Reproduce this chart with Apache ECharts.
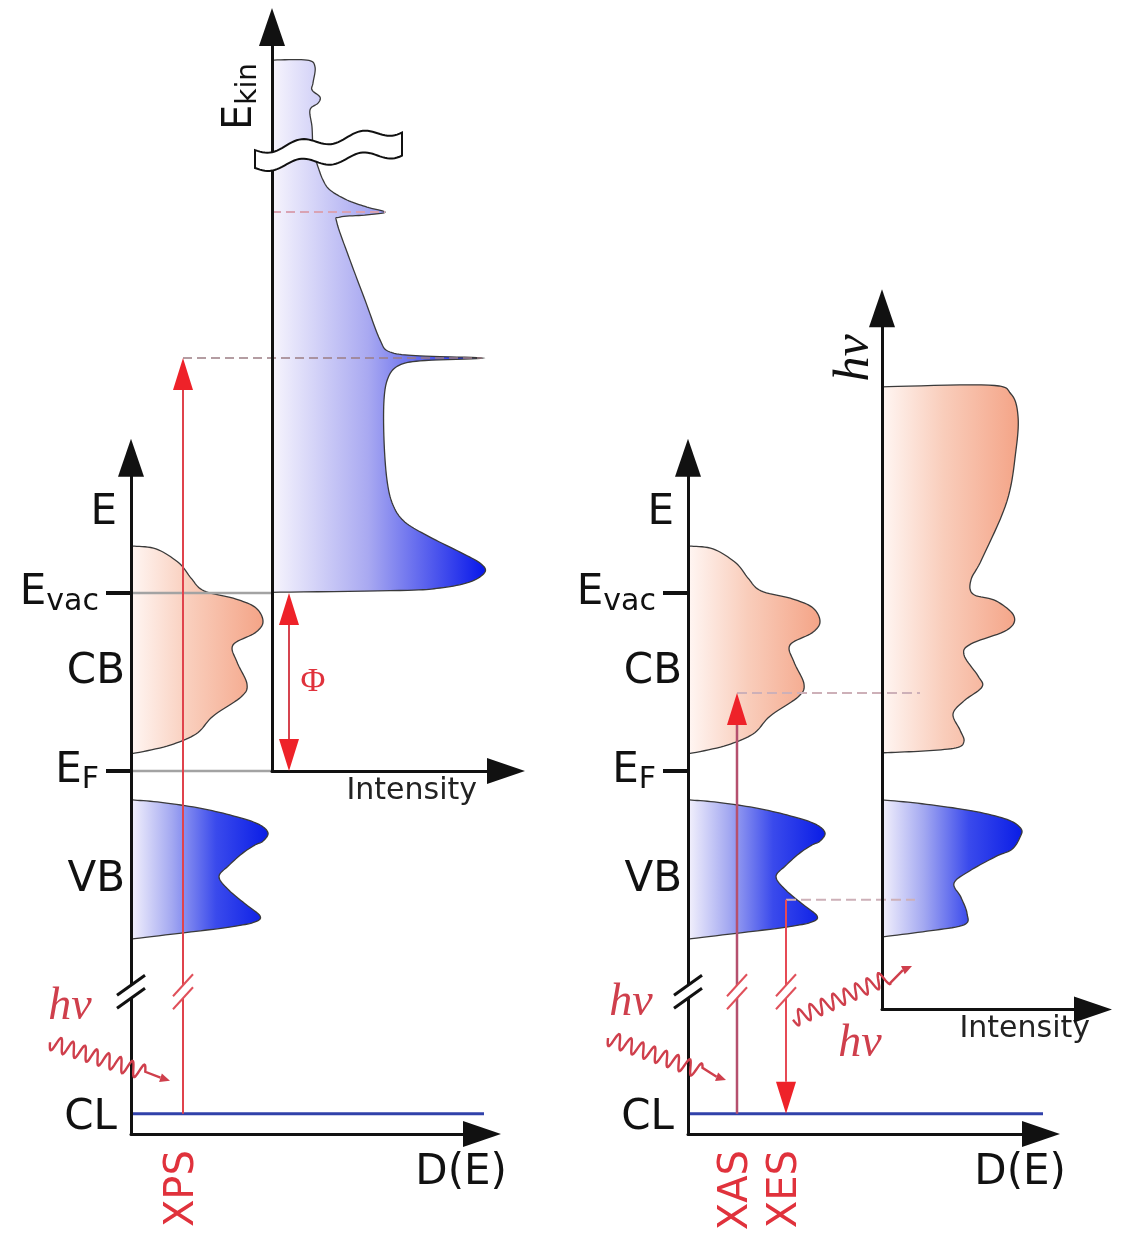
<!DOCTYPE html>
<html>
<head>
<meta charset="utf-8">
<title>XPS, XAS and XES energy scheme</title>
<script src="https://cdn.jsdelivr.net/npm/echarts@6/dist/echarts.min.js"></script>
<style>
  html, body { margin: 0; padding: 0; background: #ffffff; }
  #chart { width: 1133px; height: 1238px; }
</style>
</head>
<body>
<div id="chart"></div>
<script>
// ---- energy levels (eV, relative to the Fermi level) ----
const E_F = 0;
const E_VAC = 5.0;        // vacuum level = work function Φ
const E_CL = -9.63;       // core level
const E_BREAK = -6.2;     // energy axis is broken between VB and CL

// ---- densities of states, [D(E), E] ----
const cbDos = [[0, 6.32], [2.5, 6.24], [4.8, 5.84], [6.0, 5.42], [7.3, 5.06], [10.5, 4.83], [12.5, 4.58],
  [13.2, 4.19], [12.4, 3.88], [10.2, 3.54], [10.6, 3.06], [11.6, 2.44], [11.0, 2.08], [8.2, 1.54],
  [6.5, 1.04], [3.6, 0.70], [0, 0.48]];
const vbDos = [[0, -0.81], [3, -0.88], [7, -1.05], [10.5, -1.28], [12.8, -1.5], [13.7, -1.74], [13.2, -1.97],
  [12.4, -2.08], [11.2, -2.3], [9.8, -2.65], [8.8, -2.97], [9.8, -3.35], [11.5, -3.75], [12.9, -4.07],
  [12.4, -4.24], [10, -4.38], [6, -4.52], [0, -4.72]];

// ---- XPS spectrum, [intensity, E_kin] ----
const xpsSpectrum = [[0, 14.97], [3.5, 14.97], [4.3, 14.78], [4.1, 14.33], [4.0, 14.13], [4.8, 13.93],
  [4.6, 13.76], [3.8, 13.57], [4.0, 13.09], [4.1, 12.53], [4.4, 12.16], [4.6, 11.97], [5.1, 11.60],
  [5.8, 11.32], [7.5, 11.04], [9.5, 10.84], [11.3, 10.70], [9.5, 10.62], [6.8, 10.56], [6.5, 10.39],
  [7.8, 9.35], [9.3, 8.23], [10.8, 7.11], [11.8, 6.77], [14.8, 6.66], [21.0, 6.60], [14.8, 6.52],
  [12.6, 6.38], [11.6, 6.04], [11.2, 5.42], [11.2, 4.30], [11.5, 3.17], [12.1, 2.47], [13.3, 1.99],
  [15.8, 1.57], [18.8, 1.15], [20.8, 0.84], [21.3, 0.59], [19.8, 0.31], [16.8, 0.14], [12.8, 0.07], [0, 0.02]];
const XPS_PEAK_EKIN = 6.60;   // core-level photoemission line
const XPS_SAT_EKIN = 10.70;   // valence-band feature

// ---- X-ray absorption / emission spectra, [intensity, E] ----
const xasSpectrum = [[0, 10.79], [10.7, 10.84], [12.9, 10.59], [13.6, 9.97], [13.4, 9.02], [12.5, 7.58],
  [10.0, 5.96], [8.9, 5.37], [9.1, 4.97], [11.4, 4.78], [13.2, 4.35], [12.5, 3.96], [8.9, 3.57], [8.2, 3.26],
  [9.6, 2.67], [10.0, 2.36], [8.2, 1.97], [7.1, 1.60], [7.8, 1.15], [8.2, 0.84], [7.4, 0.65], [4.0, 0.56], [0, 0.51]];
const xesSpectrum = [[0, -0.81], [4, -0.92], [9, -1.12], [12.5, -1.36], [13.9, -1.62], [13.8, -1.86],
  [13.0, -2.2], [11.4, -2.4], [8.8, -2.8], [7.2, -3.15], [7.9, -3.55], [8.5, -4.0], [8.2, -4.32], [4.5, -4.5], [0, -4.66]];

// ---- transitions: position on the D(E) axis and end energies ----
const XPS_X = 5.2;
const XAS_X = 4.9, XAS_TOP = 2.19;
const XES_X = 9.8, XES_TOP = -3.62;
const PHI_X = 1.7;

// ---- photons, [x0, E0, x1, E1] ----
const photonInXps = [[-8.1, -7.62, 3.9, -8.70]];
const photonInXas = [[-8.0, -7.50, 3.8, -8.68]];
const photonOutXes = [[10.5, -6.99, 22.4, -5.48]];

// ---- broken E_kin axis, [xLeft, EkinLow, EkinHigh, xRight, EkinLow, EkinHigh] ----
const ekinBreak = [[-1.7, 11.94, 12.44, 13.0, 12.36, 13.01]];

// ---- labels on the energy axes ----
const levelLabelE = [7.25, E_VAC, 2.78, E_F, -3.06, -9.75];
const levelLabelText = ['{mp|E}', '{m|E}{s|vac}', '{m|CB}', '{m|E}{s|F}', '{m|VB}', '{mp|CL}'];

// ---- layout ----
const Y_EF = 771, PX_PER_EV = 35.6, PX_PER_UNIT = 10;
const LEFT_DOS_L = 131, LEFT_XPS = 272, LEFT_DOS_R = 688, LEFT_XRAY = 882;
const DOS_RANGE = [-10.2, 8.8];
const XPS_RANGE = [-E_VAC, 15.9];
const XRAY_RANGE = [-6.7, 13.0];
const X_MAX = [35.1, 23.4, 35.3, 21.1];
const OFF_XPS = (LEFT_XPS - LEFT_DOS_L) / PX_PER_UNIT;
const OFF_XRAY = (LEFT_XRAY - LEFT_DOS_R) / PX_PER_UNIT;

const FONT = 'DejaVu Sans';
const SERIF = 'Liberation Serif';
const INK = '#111111';
const RED = '#e0323c';
const PHOTON = '#cf3f4c';

const CB_FILL = [{ offset: 0, color: '#fff6f3' }, { offset: 0.45, color: '#f9cdbb' }, { offset: 1, color: '#f4a487' }];
const VB_FILL = [{ offset: 0, color: '#f3f1fc' }, { offset: 0.3, color: '#a3a8f1' }, { offset: 0.62, color: '#3a4aec' }, { offset: 1, color: '#0a1de6' }];
const XPS_FILL = [{ offset: 0, color: '#f7f5fd' }, { offset: 0.45, color: '#a9a9f1' }, { offset: 1, color: '#0717ea' }];

function gridBox(left, xMax, range, shift) {
  return {
    left: left,
    top: Y_EF - PX_PER_EV * (range[1] + shift),
    width: PX_PER_UNIT * xMax,
    height: PX_PER_EV * (range[1] - range[0]),
    containLabel: false,
    outerBoundsMode: 'none'
  };
}

function arrowLine() {
  return { show: true, onZero: false, symbol: ['none', 'triangle'], symbolSize: [26, 38],
    lineStyle: { color: INK, width: 3 } };
}

function baseAxis(extra) {
  return Object.assign({
    type: 'value', z: 5, silent: true,
    splitLine: { show: false }, axisTick: { show: false }, axisLabel: { show: false },
    axisLine: arrowLine()
  }, extra);
}

function nearestLabel(v) {
  let best = 0;
  levelLabelE.forEach(function (e, i) { if (Math.abs(e - v) < Math.abs(levelLabelE[best] - v)) best = i; });
  return levelLabelText[best];
}

function energyAxis(grid) {
  return baseAxis({
    gridIndex: grid, min: DOS_RANGE[0], max: DOS_RANGE[1],
    axisTick: { show: true, customValues: [E_VAC, E_F], length: 25, inside: false,
      lineStyle: { color: INK, width: 4 } },
    axisLabel: {
      show: true, customValues: levelLabelE, margin: 6, formatter: nearestLabel,
      rich: {
        m: { fontFamily: FONT, fontSize: 42, color: INK },
        mp: { fontFamily: FONT, fontSize: 42, color: INK, padding: [0, 8, 0, 0] },
        s: { fontFamily: FONT, fontSize: 30, color: INK, padding: [18, 26, 0, 0] }
      }
    }
  });
}

// Catmull-Rom smoothing of a pixel polyline
function smoothPath(pts, steps) {
  const out = [];
  const n = pts.length;
  for (let i = 0; i < n - 1; i++) {
    const p0 = pts[Math.max(i - 1, 0)], p1 = pts[i], p2 = pts[i + 1], p3 = pts[Math.min(i + 2, n - 1)];
    const c1 = [p1[0] + (p2[0] - p0[0]) / 6, p1[1] + (p2[1] - p0[1]) / 6];
    const c2 = [p2[0] - (p3[0] - p1[0]) / 6, p2[1] - (p3[1] - p1[1]) / 6];
    for (let s = 0; s < steps; s++) {
      const t = s / steps, u = 1 - t;
      const a = u * u * u, b = 3 * u * u * t, c = 3 * u * t * t, d = t * t * t;
      out.push([a * p1[0] + b * c1[0] + c * c2[0] + d * p2[0], a * p1[1] + b * c1[1] + c * c2[1] + d * p2[1]]);
    }
  }
  out.push(pts[n - 1]);
  return out;
}

// filled density / spectrum, closed along its vertical axis
function shapeSeries(grid, data, stops) {
  return {
    type: 'custom', xAxisIndex: grid, yAxisIndex: grid, z: 1, silent: true, data: data,
    renderItem: function (params, api) {
      if (params.dataIndexInside !== 0) return null;
      const pts = [];
      for (let i = 0; i < params.dataInsideLength; i++) pts.push(api.coord([api.value(0, i), api.value(1, i)]));
      const curve = smoothPath(pts, 10);
      return {
        type: 'group', children: [
          { type: 'polygon', shape: { points: curve },
            style: { fill: new echarts.graphic.LinearGradient(0, 0, 1, 0, stops), stroke: null } },
          { type: 'polyline', shape: { points: curve }, style: { stroke: '#3a3a3a', lineWidth: 1.3, fill: null } }
        ]
      };
    }
  };
}

function segSeries(grid, data, color, width, dash, z) {
  return { type: 'line', xAxisIndex: grid, yAxisIndex: grid, data: data, symbol: 'none', silent: true,
    clip: false, z: z, lineStyle: { color: color, width: width, type: dash } };
}

// vertical transition arrows, data [x, Efrom, Eto]
function arrowSeries(grid, data, lineColor, lineWidth, both, label) {
  return {
    type: 'custom', xAxisIndex: grid, yAxisIndex: grid, z: 6, silent: true, data: data,
    renderItem: function (params, api) {
      const x = api.value(0);
      const p0 = api.coord([x, api.value(1)]), p1 = api.coord([x, api.value(2)]);
      const dir = p1[1] > p0[1] ? 1 : -1;
      const L = 32, W = 10;
      const kids = [];
      const start = both ? p0[1] + dir * L : p0[1];
      kids.push({ type: 'line', shape: { x1: p0[0], y1: start, x2: p1[0], y2: p1[1] - dir * L },
        style: { stroke: lineColor, lineWidth: lineWidth } });
      kids.push({ type: 'polygon', shape: { points: [[p1[0], p1[1]], [p1[0] - W, p1[1] - dir * L], [p1[0] + W, p1[1] - dir * L]] },
        style: { fill: '#ee2229' } });
      if (both) {
        kids.push({ type: 'polygon', shape: { points: [[p0[0], p0[1]], [p0[0] - W, p0[1] + dir * L], [p0[0] + W, p0[1] + dir * L]] },
          style: { fill: '#ee2229' } });
      }
      if (label) {
        kids.push({ type: 'text', x: p0[0] + 24, y: (p0[1] + p1[1]) / 2,
          style: { text: label, fill: RED, font: '34px "' + SERIF + '"', align: 'center', verticalAlign: 'middle' } });
      }
      return { type: 'group', children: kids };
    }
  };
}

// "//" break marks, data [x, E]
function breakSeries(grid, data, color, width, hx, hy) {
  return {
    type: 'custom', xAxisIndex: grid, yAxisIndex: grid, z: 8, silent: true, data: data,
    renderItem: function (params, api) {
      const c = api.coord([api.value(0), api.value(1)]);
      const sep = 13;
      const a = [c[0] - hx, c[1] - sep / 2 + hy], b = [c[0] + hx, c[1] - sep / 2 - hy];
      const d = [c[0] - hx, c[1] + sep / 2 + hy], e = [c[0] + hx, c[1] + sep / 2 - hy];
      return {
        type: 'group', children: [
          { type: 'polygon', shape: { points: [a, b, e, d] }, style: { fill: '#ffffff' } },
          { type: 'line', shape: { x1: a[0], y1: a[1], x2: b[0], y2: b[1] }, style: { stroke: color, lineWidth: width } },
          { type: 'line', shape: { x1: d[0], y1: d[1], x2: e[0], y2: e[1] }, style: { stroke: color, lineWidth: width } }
        ]
      };
    }
  };
}

// wavy photon arrow with its hν label, data [x0, E0, x1, E1]
function photonSeries(grid, data, labelDx, labelDy) {
  return {
    type: 'custom', xAxisIndex: grid, yAxisIndex: grid, z: 7, silent: true, data: data,
    renderItem: function (params, api) {
      const p0 = api.coord([api.value(0), api.value(1)]), p1 = api.coord([api.value(2), api.value(3)]);
      const dx = p1[0] - p0[0], dy = p1[1] - p0[1];
      const len = Math.sqrt(dx * dx + dy * dy);
      const ux = dx / len, uy = dy / len, nx = -uy, ny = ux;
      const waveLen = len - 26, period = 12.5, amp = 7.5;
      const pts = [];
      for (let s = 0; s <= waveLen; s += 0.75) {
        const w = amp * Math.sin(2 * Math.PI * s / period);
        pts.push([p0[0] + ux * s + nx * w, p0[1] + uy * s + ny * w]);
      }
      const hb = [p1[0] - ux * 10, p1[1] - uy * 10];
      pts.push(hb);
      return {
        type: 'group', children: [
          { type: 'polyline', shape: { points: pts }, style: { stroke: PHOTON, lineWidth: 2.4, fill: null } },
          { type: 'polygon', shape: { points: [p1, [hb[0] + nx * 4.5, hb[1] + ny * 4.5], [hb[0] - nx * 4.5, hb[1] - ny * 4.5]] },
            style: { fill: PHOTON } },
          { type: 'text', x: p0[0] + labelDx, y: p0[1] + labelDy,
            style: { text: 'hν', fill: PHOTON, font: 'italic 46px "' + SERIF + '"', align: 'center', verticalAlign: 'middle' } }
        ]
      };
    }
  };
}

// wavy band that marks the broken E_kin axis
function ekinBreakSeries(data) {
  return {
    type: 'custom', xAxisIndex: 1, yAxisIndex: 1, z: 8, silent: true, data: data,
    renderItem: function (params, api) {
      const lLo = api.coord([api.value(0), api.value(1)]), lHi = api.coord([api.value(0), api.value(2)]);
      const rLo = api.coord([api.value(3), api.value(4)]), rHi = api.coord([api.value(3), api.value(5)]);
      function wave(a, b) {
        const out = [];
        for (let i = 0; i <= 60; i++) {
          const t = i / 60;
          out.push([a[0] + (b[0] - a[0]) * t, a[1] + (b[1] - a[1]) * t + 4.5 * Math.sin(2 * Math.PI * 2.4 * t)]);
        }
        return out;
      }
      const top = wave(lHi, rHi), bot = wave(lLo, rLo).reverse();
      return { type: 'polygon', shape: { points: top.concat(bot) },
        style: { fill: '#ffffff', stroke: INK, lineWidth: 2 } };
    }
  };
}

const xpsPeak = xpsSpectrum.find(function (p) { return p[1] === XPS_PEAK_EKIN; });
const xpsSat = xpsSpectrum.find(function (p) { return p[1] === XPS_SAT_EKIN; });

const option = {
  animation: false,
  backgroundColor: '#ffffff',
  grid: [
    gridBox(LEFT_DOS_L, X_MAX[0], DOS_RANGE, 0),
    gridBox(LEFT_XPS, X_MAX[1], XPS_RANGE, E_VAC),
    gridBox(LEFT_DOS_R, X_MAX[2], DOS_RANGE, 0),
    gridBox(LEFT_XRAY, X_MAX[3], XRAY_RANGE, 0)
  ],
  xAxis: [
    baseAxis({ gridIndex: 0, min: 0, max: X_MAX[0], name: 'D(E)', nameLocation: 'end', nameGap: 25,
      nameTextStyle: { fontFamily: FONT, fontSize: 42, color: INK, align: 'right', verticalAlign: 'top', padding: [18, 0, 0, 0] },
      axisLabel: { show: true, customValues: [XPS_X], formatter: function () { return 'XPS'; }, rotate: 90, margin: 16,
        color: RED, fontFamily: FONT, fontSize: 40 } }),
    baseAxis({ gridIndex: 1, min: 0, max: X_MAX[1], name: 'Intensity', nameLocation: 'end', nameGap: -29,
      nameTextStyle: { fontFamily: FONT, fontSize: 30, color: '#222', align: 'right', verticalAlign: 'top', padding: [5, 0, 0, 0] } }),
    baseAxis({ gridIndex: 2, min: 0, max: X_MAX[2], name: 'D(E)', nameLocation: 'end', nameGap: 25,
      nameTextStyle: { fontFamily: FONT, fontSize: 42, color: INK, align: 'right', verticalAlign: 'top', padding: [18, 0, 0, 0] },
      axisLabel: { show: true, customValues: [XAS_X, XES_X],
        formatter: function (v) { return Math.abs(v - XAS_X) < 1e-6 ? 'XAS' : 'XES'; },
        rotate: 90, margin: 16, color: RED, fontFamily: FONT, fontSize: 40 } }),
    baseAxis({ gridIndex: 3, min: 0, max: X_MAX[3], name: 'Intensity', nameLocation: 'end', nameGap: -3,
      nameTextStyle: { fontFamily: FONT, fontSize: 30, color: '#222', align: 'right', verticalAlign: 'top', padding: [5, 0, 0, 0] } })
  ],
  yAxis: [
    energyAxis(0),
    baseAxis({ gridIndex: 1, min: XPS_RANGE[0], max: XPS_RANGE[1], name: '{a|E}{b|kin}', nameLocation: 'end',
      nameRotate: 90, nameGap: -36,
      nameTextStyle: { align: 'right', verticalAlign: 'bottom', padding: [0, 0, 9, 0],
        rich: { a: { fontFamily: FONT, fontSize: 40, color: INK }, b: { fontFamily: FONT, fontSize: 28, color: INK, padding: [16, 0, 0, 0] } } } }),
    energyAxis(2),
    baseAxis({ gridIndex: 3, min: XRAY_RANGE[0], max: XRAY_RANGE[1], name: 'hν', nameLocation: 'end',
      nameRotate: 90, nameGap: -26,
      nameTextStyle: { fontFamily: SERIF, fontStyle: 'italic', fontSize: 50, color: INK, align: 'right',
        verticalAlign: 'bottom', padding: [0, 0, 2, 0] } })
  ],
  series: [
    // densities of states and spectra
    shapeSeries(0, cbDos, CB_FILL),
    shapeSeries(0, vbDos, VB_FILL),
    shapeSeries(1, xpsSpectrum, XPS_FILL),
    shapeSeries(2, cbDos, CB_FILL),
    shapeSeries(2, vbDos, VB_FILL),
    shapeSeries(3, xasSpectrum, CB_FILL),
    shapeSeries(3, xesSpectrum, VB_FILL),

    // vacuum and Fermi levels, core levels
    segSeries(0, [[0, E_VAC], [OFF_XPS, E_VAC]], '#a3a3a3', 2.5, 'solid', 3),
    segSeries(0, [[0, E_F], [OFF_XPS, E_F]], '#a3a3a3', 2.5, 'solid', 3),
    segSeries(0, [[0, E_CL], [36.1, E_CL]], '#3141aa', 3, 'solid', 3),
    segSeries(2, [[0, E_CL], [36.2, E_CL]], '#3141aa', 3, 'solid', 3),

    // guide lines from the transitions to the spectra
    segSeries(0, [[XPS_X, E_VAC + XPS_PEAK_EKIN], [OFF_XPS + xpsPeak[0], E_VAC + XPS_PEAK_EKIN]], '#9c7d84', 1.6, [9, 5], 3),
    segSeries(1, [[0, XPS_SAT_EKIN], [xpsSat[0], XPS_SAT_EKIN]], '#d9a3b4', 2, [9, 5], 3),
    segSeries(2, [[XAS_X, XAS_TOP], [OFF_XRAY + 3.8, XAS_TOP]], '#cdb0b8', 2, [10, 5], 3),
    segSeries(2, [[XES_X, XES_TOP], [OFF_XRAY + 3.3, XES_TOP]], '#cdb0b8', 2, [10, 5], 3),

    // transitions
    arrowSeries(0, [[XPS_X, E_CL, E_VAC + XPS_PEAK_EKIN]], '#e0434c', 2, false),
    arrowSeries(1, [[PHI_X, XPS_RANGE[0], 0]], '#d6444f', 2, true, 'Φ'),
    arrowSeries(2, [[XAS_X, E_CL, XAS_TOP]], '#b5506e', 2.5, false),
    arrowSeries(2, [[XES_X, XES_TOP, E_CL]], '#e64a55', 2, false),

    // photons
    photonSeries(0, photonInXps, 20, -35),
    photonSeries(2, photonInXas, 23, -35),
    photonSeries(2, photonOutXes, 67, 24),

    // axis breaks
    breakSeries(0, [[0, E_BREAK]], INK, 3, 14, 10),
    breakSeries(2, [[0, E_BREAK]], INK, 3, 14, 10),
    breakSeries(0, [[XPS_X, E_BREAK]], '#e0505a', 2, 10, 11),
    breakSeries(2, [[XAS_X, E_BREAK], [XES_X, E_BREAK]], '#e0505a', 2, 10, 11),
    ekinBreakSeries(ekinBreak)
  ]
};

const chart = echarts.init(document.getElementById('chart'), null, { renderer: 'canvas' });
chart.setOption(option);
</script>
</body>
</html>
